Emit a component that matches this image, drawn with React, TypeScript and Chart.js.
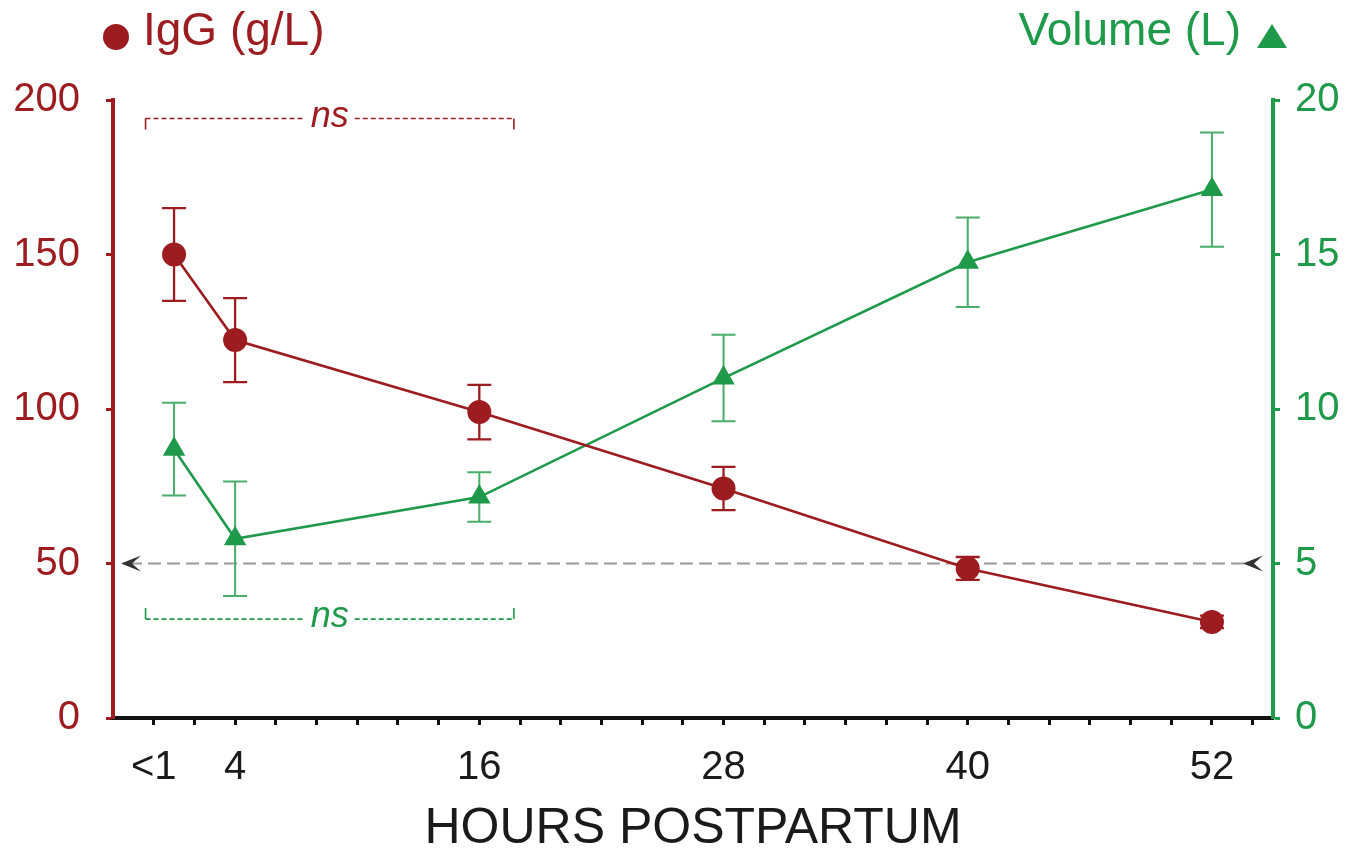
import { useEffect, useRef } from 'react';
import { Chart, registerables } from 'chart.js';

Chart.register(...registerables);

// ---- data ----
const HOURS = [1, 4, 16, 28, 40, 52];
const IGG = [150, 122.3, 99, 74.3, 48.4, 31.1];
const IGG_ERR = [15, 13.6, 8.8, 7, 3.7, 2];
const VOLUME = [8.7, 5.8, 7.15, 11.0, 14.75, 17.1];
const VOLUME_ERR = [1.5, 1.85, 0.8, 1.4, 1.45, 1.85];

const X_TICK_POSITIONS = [0, 2, 4, 6, 8, 10, 12, 14, 16, 18, 20, 22, 24, 26, 28, 30, 32, 34, 36, 38, 40, 42, 44, 46, 48, 50, 52, 54];
const X_LABEL_VALUES = [0, 4, 16, 28, 40, 52];
const X_LABELS = ['<1', '4', '16', '28', '40', '52'];

const REFERENCE_IGG = 50;
const NS_BRACKET_HOURS = [-0.4, 17.7];
const NS_IGG_LEVEL = 194;
const NS_VOLUME_LEVEL = 3.2;

// ---- styles ----
const RED = '#9C1C20';
const GREEN = '#1E9A4A';
const GREEN_LIGHT = '#4AAE6A';
const FONT = "'Liberation Sans', Arial, Helvetica, sans-serif";

function drawErrorBars(ctx: CanvasRenderingContext2D, xs: any, ys: any, vals: number[], errs: number[], color: string, width: number) {
  ctx.save();
  ctx.strokeStyle = color;
  ctx.lineWidth = width;
  ctx.setLineDash([]);
  const cap = 12;
  HOURS.forEach((h, i) => {
    const px = xs.getPixelForValue(h);
    const top = ys.getPixelForValue(vals[i] + errs[i]);
    const bot = ys.getPixelForValue(vals[i] - errs[i]);
    ctx.beginPath();
    ctx.moveTo(px, top);
    ctx.lineTo(px, bot);
    ctx.moveTo(px - cap, top);
    ctx.lineTo(px + cap, top);
    ctx.moveTo(px - cap, bot);
    ctx.lineTo(px + cap, bot);
    ctx.stroke();
  });
  ctx.restore();
}

function drawBracket(ctx: CanvasRenderingContext2D, xs: any, py: number, color: string, dir: number) {
  const x1 = xs.getPixelForValue(NS_BRACKET_HOURS[0]);
  const x2 = xs.getPixelForValue(NS_BRACKET_HOURS[1]);
  const mid = (x1 + x2) / 2;
  ctx.save();
  ctx.strokeStyle = color;
  ctx.lineWidth = 1.6;
  ctx.setLineDash([5, 3]);
  ctx.beginPath();
  ctx.moveTo(x1, py);
  ctx.lineTo(mid - 25, py);
  ctx.moveTo(mid + 25, py);
  ctx.lineTo(x2, py);
  ctx.stroke();
  ctx.setLineDash([]);
  ctx.beginPath();
  ctx.moveTo(x1, py);
  ctx.lineTo(x1, py + dir * 11);
  ctx.moveTo(x2, py);
  ctx.lineTo(x2, py + dir * 11);
  ctx.stroke();
  ctx.fillStyle = color;
  ctx.font = `italic 36px ${FONT}`;
  ctx.textAlign = 'center';
  ctx.textBaseline = 'middle';
  ctx.fillText('ns', mid, py - 2);
  ctx.restore();
}

function drawChevron(ctx: CanvasRenderingContext2D, tx: number, y: number) {
  ctx.save();
  ctx.fillStyle = '#333';
  ctx.beginPath();
  ctx.moveTo(tx, y);
  ctx.lineTo(tx + 20, y - 8);
  ctx.lineTo(tx + 11, y);
  ctx.lineTo(tx + 20, y + 8);
  ctx.closePath();
  ctx.fill();
  ctx.restore();
}

const overlayPlugin = {
  id: 'overlay',
  beforeDatasetsDraw(chart: any) {
    const { ctx, chartArea, scales } = chart;
    const xs = scales.x;
    const yl = scales.yIgG;
    const yr = scales.yVol;
    // reference line
    const yRef = yl.getPixelForValue(REFERENCE_IGG);
    ctx.save();
    ctx.strokeStyle = '#9a9a9a';
    ctx.lineWidth = 2;
    ctx.setLineDash([13, 6]);
    ctx.beginPath();
    ctx.moveTo(chartArea.left + 16, yRef);
    ctx.lineTo(chartArea.right - 28, yRef);
    ctx.stroke();
    ctx.restore();
    drawChevron(ctx, chartArea.left + 8, yRef);
    drawChevron(ctx, chartArea.right - 30, yRef);
    // ns brackets
    drawBracket(ctx, xs, yl.getPixelForValue(NS_IGG_LEVEL), RED, 1);
    drawBracket(ctx, xs, yr.getPixelForValue(NS_VOLUME_LEVEL), GREEN, -1);
    // error bars
    drawErrorBars(ctx, xs, yl, IGG, IGG_ERR, RED, 2.3);
    drawErrorBars(ctx, xs, yr, VOLUME, VOLUME_ERR, GREEN_LIGHT, 2);
  },
  afterDraw(chart: any) {
    const { ctx, chartArea } = chart;
    ctx.save();
    // left header
    ctx.fillStyle = RED;
    ctx.beginPath();
    ctx.arc(chartArea.left + 3, 37, 13, 0, Math.PI * 2);
    ctx.fill();
    ctx.font = `46px ${FONT}`;
    ctx.textBaseline = 'alphabetic';
    ctx.textAlign = 'left';
    ctx.fillText('IgG (g/L)', chartArea.left + 30, 45);
    // right header
    ctx.fillStyle = GREEN;
    ctx.textAlign = 'right';
    ctx.fillText('Volume (L)', chartArea.right - 32, 45);
    const cx = chartArea.right - 1;
    ctx.beginPath();
    ctx.moveTo(cx, 24);
    ctx.lineTo(cx + 15, 48);
    ctx.lineTo(cx - 15, 48);
    ctx.closePath();
    ctx.fill();
    ctx.restore();
  },
};

export default function App() {
  const canvasRef = useRef<HTMLCanvasElement | null>(null);

  useEffect(() => {
    if (!canvasRef.current) return;
    const chart = new Chart(canvasRef.current, {
      type: 'line',
      data: {
        datasets: [
          {
            label: 'IgG (g/L)',
            data: HOURS.map((h, i) => ({ x: h, y: IGG[i] })),
            yAxisID: 'yIgG',
            borderColor: RED,
            backgroundColor: RED,
            borderWidth: 2.6,
            pointStyle: 'circle',
            pointRadius: 12,
            pointBorderWidth: 0,
            pointBackgroundColor: RED,
            tension: 0,
          },
          {
            label: 'Volume (L)',
            data: HOURS.map((h, i) => ({ x: h, y: VOLUME[i] })),
            yAxisID: 'yVol',
            borderColor: GREEN,
            backgroundColor: GREEN,
            borderWidth: 2.6,
            pointStyle: 'triangle',
            pointRadius: 13,
            pointBorderWidth: 0,
            pointBackgroundColor: GREEN,
            tension: 0,
          },
        ],
      },
      options: {
        responsive: false,
        animation: false,
        devicePixelRatio: 1,
        layout: { padding: { top: 100, left: 0, right: 0, bottom: 0 } },
        plugins: {
          legend: { display: false },
          tooltip: { enabled: false },
        },
        scales: {
          x: {
            type: 'linear',
            min: -2,
            max: 55,
            afterBuildTicks: (s: any) => {
              s.ticks = X_TICK_POSITIONS.map((v) => ({ value: v }));
            },
            afterFit: (s: any) => {
              s.height = 143;
            },
            ticks: {
              autoSkip: false,
              maxRotation: 0,
              padding: 19,
              color: '#1a1a1a',
              font: { size: 40, family: FONT },
              callback: (v: any) => {
                const i = X_LABEL_VALUES.indexOf(Number(v));
                return i >= 0 ? X_LABELS[i] : '';
              },
            },
            grid: { drawOnChartArea: false, tickLength: 7, tickWidth: 3, tickColor: '#111' },
            border: { color: '#111', width: 4 },
            title: {
              display: true,
              text: 'HOURS POSTPARTUM',
              color: '#1a1a1a',
              font: { size: 50, family: FONT },
              padding: { top: 0, bottom: 2 },
            },
          },
          yIgG: {
            type: 'linear',
            position: 'left',
            min: 0,
            max: 200,
            afterFit: (s: any) => {
              s.width = 113;
            },
            ticks: {
              stepSize: 50,
              padding: 26,
              color: RED,
              font: { size: 40, family: FONT },
            },
            grid: { drawOnChartArea: false, tickLength: 7, tickWidth: 3, tickColor: RED },
            border: { color: RED, width: 4 },
          },
          yVol: {
            type: 'linear',
            position: 'right',
            min: 0,
            max: 20,
            afterFit: (s: any) => {
              s.width = 75;
            },
            ticks: {
              stepSize: 5,
              padding: 15,
              color: GREEN,
              font: { size: 40, family: FONT },
            },
            grid: { drawOnChartArea: false, tickLength: 7, tickWidth: 3, tickColor: GREEN },
            border: { color: GREEN, width: 4 },
          },
        },
      },
      plugins: [overlayPlugin],
    });
    return () => chart.destroy();
  }, []);

  return (
    <div style={{ position: 'absolute', left: 0, top: 0, width: 1348, height: 861, background: '#fff' }}>
      <canvas ref={canvasRef} width={1348} height={861} />
    </div>
  );
}
